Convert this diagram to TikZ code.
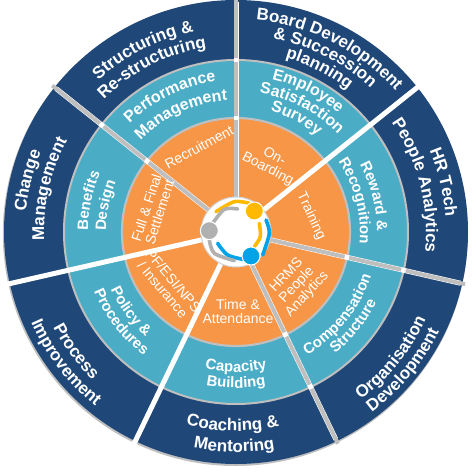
\documentclass[tikz,border=0pt]{standalone}
\usepackage{fontspec}
\setmainfont{Liberation Sans}
\usetikzlibrary{decorations.text}
\definecolor{navy}{HTML}{1F4778}
\definecolor{tealc}{HTML}{4BACC6}
\definecolor{orangec}{HTML}{F79646}
\definecolor{rim}{HTML}{BFBFBF}
\definecolor{ylogo}{HTML}{FFB900}
\definecolor{blogo}{HTML}{00A2E8}
\definecolor{glogo}{HTML}{B0B0B0}
\newcommand{\fO}{\fontsize{17}{18}\selectfont\bfseries}
\newcommand{\fM}{\fontsize{16}{17}\selectfont\bfseries}
\newcommand{\fS}{\fontsize{15}{16}\selectfont\bfseries}
\newcommand{\toparc}[4]{\path[decorate,decoration={text along path,text color=white,text align=center,text={|#3|#4}}]
  (#1+50:#2) arc[start angle=#1+50,end angle=#1-50,radius=#2];}
\newcommand{\botarc}[4]{\path[decorate,decoration={text along path,text color=white,text align=center,text={|#3|#4}}]
  (#1-50:#2) arc[start angle=#1-50,end angle=#1+50,radius=#2];}
\tikzset{
  inner label/.style={text=white,font=\fontsize{14}{14}\selectfont,align=center,inner sep=0pt},
  logo arc/.style={line width=3.6pt,line cap=round},
  logo dot/.style={draw=white,line width=1pt}
}
\begin{document}
\begin{tikzpicture}[x=1pt,y=1pt]
\useasboundingbox (-236,-239) rectangle (240,232);
% discs
\fill[rim] (-0.7,-1.5) circle[radius=232.5];
\fill[navy] (0,0) circle[radius=232];
\fill[tealc,draw=rim,line width=2pt] (0,0) circle[radius=172];
\fill[orangec,draw=rim,line width=2.2pt] (0,0) circle[radius=114];
% spokes
\foreach \a in {38.57,-115.71,-167.14}{
  \draw[white,line width=5pt] (0,0) -- (\a:235);
}
\foreach \a in {90,141.43,-12.86,-64.29}{
  \draw[white,line width=5pt] (0,0) -- (\a:230);
  \draw[rim,line width=4pt] (0,0) -- (\a:235);
  \draw[white,line width=4.5pt] (\a:111.5) -- (\a:116);
  \draw[white,line width=4.5pt] (\a:169.5) -- (\a:174);
}
% hub
\fill[white,draw=rim!70,line width=1pt] (0,0) circle[radius=35];
\begin{scope}[x=.3333pt,y=-.3333pt]
\draw[logo arc,ylogo] plot[smooth] coordinates {(-60,-61) (-5,-91) (40,-86)};
\draw[logo arc,ylogo] plot[smooth] coordinates {(70,-26) (73,14) (55,44)};
\draw[logo arc,blogo] plot[smooth] coordinates {(90,-36) (100,4) (80,69)};
\draw[logo arc,blogo] plot[smooth] coordinates {(-55,34) (-25,69) (30,84)};
\draw[logo arc,glogo] plot[smooth] coordinates {(5,-69) (-35,-68) (-70,-26)};
\draw[logo arc,glogo] plot[smooth] coordinates {(-80,24) (-65,64) (-5,86)};
\fill[logo dot,fill=ylogo] (55,-63) circle[radius=27];
\fill[logo dot,fill=blogo] (45,72) circle[radius=27];
\fill[logo dot,fill=glogo] (-80,-4) circle[radius=27];
\end{scope}
% outer ring
\toparc{117}{205}{\fO}{Structuring {\&}}
\toparc{117}{187}{\fO}{Re-structuring}
\toparc{63}{213}{\fO}{Board Development}
\toparc{63}{197}{\fO}{{\&} Succession}
\toparc{63}{181}{\fO}{planning}
\toparc{13.5}{210}{\fO}{HR Tech}
\toparc{14.5}{190}{\fO}{People Analytics}
\toparc{166}{211}{\fO}{Change}
\toparc{167}{192}{\fO}{Management}
\botarc{-39}{209}{\fO}{Organisation}
\botarc{-39.5}{226}{\fO}{Development}
\botarc{-91}{199}{\fO}{Coaching {\&}}
\botarc{-90.5}{220}{\fO}{Mentoring}
\botarc{-143.3}{206}{\fO}{Process}
\botarc{-142.5}{224}{\fO}{Improvement}
% middle ring
\toparc{116}{152}{\fM}{Performance}
\toparc{115}{132}{\fM}{Management}
\toparc{63}{157}{\fM}{Employee}
\toparc{62}{141}{\fM}{Satisfaction}
\toparc{62}{126}{\fM}{Survey}
\toparc{14.5}{141}{\fS}{Reward {\&}}
\toparc{14.5}{124}{\fS}{Recognition}
\toparc{168}{148}{\fS}{Benefits}
\toparc{168.5}{130}{\fS}{Design}
\botarc{-143}{138}{\fS}{Policy {\&}}
\botarc{-142}{154}{\fS}{Procedures}
\botarc{-90}{140}{\fS}{Capacity}
\botarc{-90}{156}{\fS}{Building}
\botarc{-39}{142}{\fS}{Compensation}
\botarc{-38.7}{157}{\fS}{Structure}
% inner ring
\node[inner label,rotate=28] (recruit) at (-37,85) {Recruitment};
\node[inner label,rotate=-28] (onb) at (35,69) {On-\\Boarding};
\node[inner label,rotate=-65] (train) at (75,16) {Training};
\node[inner label,rotate=47] (hrms) at (61,-53) {HRMS\\People\\Analytics};
\node[inner label] (time) at (2,-79) {Time \&\\Attendance};
\node[inner label,rotate=-50] (pf) at (-68,-53) {PF/ESI/NPS\\/ Insurance};
\node[inner label,rotate=72] (full) at (-83,22) {Full \& Final\\Settlement};
\end{tikzpicture}
\end{document}
